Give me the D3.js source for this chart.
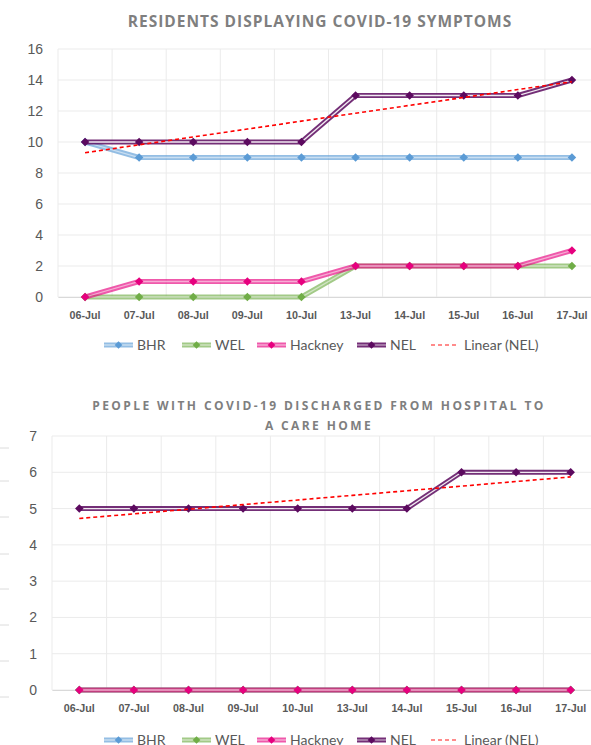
<!DOCTYPE html>
<html><head><meta charset="utf-8">
<script src="https://cdn.jsdelivr.net/npm/d3@7"></script>
<style>
body{margin:0;background:#fff;overflow:hidden}
svg{display:block;font-family:Lato,"Open Sans",sans-serif}
</style></head>
<body><svg id="c" width="591" height="745"></svg>
<script>
const dates = ["06-Jul","07-Jul","08-Jul","09-Jul","10-Jul","13-Jul","14-Jul","15-Jul","16-Jul","17-Jul"];
const seriesNames = ["BHR","WEL","Hackney","NEL"];
const seriesColors = ["#5b9bd5","#70ad47","#e6007e","#5c0a5f"];

// Chart 1: residents displaying symptoms
const symBHR = [10,9,9,9,9,9,9,9,9,9];
const symWEL = [0,0,0,0,0,2,2,2,2,2];
const symHackney = [0,1,1,1,1,2,2,2,2,3];
const symNEL = [10,10,10,10,10,13,13,13,13,14];
const symTicks = [0,2,4,6,8,10,12,14,16];

// Chart 2: discharged to care home
const disBHR = [0,0,0,0,0,0,0,0,0,0];
const disWEL = [0,0,0,0,0,0,0,0,0,0];
const disHackney = [0,0,0,0,0,0,0,0,0,0];
const disNEL = [5,5,5,5,5,5,5,6,6,6];
const disTicks = [0,1,2,3,4,5,6,7];

const svg = d3.select("#c");

function linFit(vals){
  const xs = vals.map((_,i)=>i+1);
  const mx = d3.mean(xs), my = d3.mean(vals);
  let sxy=0,sxx=0;
  xs.forEach((x,i)=>{sxy+=(x-mx)*(vals[i]-my); sxx+=(x-mx)*(x-mx);});
  const b = sxy/sxx, a = my-b*mx;
  return xs.map(x=>a+b*x);
}

function drawChart(cfg){
  const g = svg.append("g");
  const x = d3.scaleBand().domain(dates).range([cfg.left, cfg.right]);
  const y = d3.scaleLinear().domain([0, d3.max(cfg.ticks)]).range([cfg.bottom, cfg.top]);
  g.append("g").selectAll("line").data(cfg.ticks).join("line")
    .attr("x1",cfg.left).attr("x2",cfg.right).attr("y1",d=>y(d)).attr("y2",d=>y(d))
    .attr("stroke","#ebebeb").attr("stroke-width",1);
  g.append("g").selectAll("line").data(dates).join("line")
    .attr("x1",d=>x(d)).attr("x2",d=>x(d)).attr("y1",cfg.top).attr("y2",cfg.bottom)
    .attr("stroke","#ebebeb").attr("stroke-width",1);
  const ya = d3.axisLeft(y).tickValues(cfg.ticks).tickFormat(d3.format("d")).tickSize(0).tickPadding(15);
  const yg = g.append("g").attr("transform",`translate(${cfg.left},0)`).call(ya);
  yg.select(".domain").remove();
  yg.selectAll("text").attr("fill","#595959").style("font-size","14px");
  const xa = d3.axisBottom(x).tickSize(0).tickPadding(14);
  const xg = g.append("g").attr("transform",`translate(0,${cfg.bottom})`).call(xa);
  xg.select(".domain").attr("stroke","#d9d9d9");
  xg.selectAll("text").attr("fill","#595959").style("font-size","11.5px").style("font-weight","bold")
    .attr("textLength",31).attr("lengthAdjust","spacingAndGlyphs");
  const line = d3.line().x((d,i)=>x(dates[i])+x.bandwidth()/2).y(d=>y(d));
  cfg.series.forEach((vals,si)=>{
    const c = seriesColors[si];
    g.append("path").attr("d",line(vals)).attr("fill","none").attr("stroke",c)
      .attr("stroke-width",5).attr("stroke-opacity",si===3?0.85:0.65).attr("stroke-linejoin","round");
    g.append("path").attr("d",line(vals)).attr("fill","none").attr("stroke","#fff")
      .attr("stroke-width",1.3).attr("stroke-opacity",si===3?0.9:0.5);
    g.append("g").selectAll("path").data(vals).join("path")
      .attr("d",d3.symbol(d3.symbolSquare,36))
      .attr("transform",(d,i)=>`translate(${x(dates[i])+x.bandwidth()/2},${y(d)}) rotate(45)`)
      .attr("fill",c);
  });
  const fit = linFit(cfg.series[3]);
  g.append("path").attr("d",line(fit)).attr("fill","none").attr("stroke","#ff0000")
    .attr("stroke-width",1.6).attr("stroke-dasharray","4,3");
  cfg.title.forEach((t,i)=>{
    g.append("text").attr("x",cfg.titleX).attr("y",cfg.titleY+i*cfg.titleStep)
      .attr("text-anchor","middle").attr("fill","#7f7f7f")
      .style("font-family","'Open Sans',sans-serif").style("font-weight","bold")
      .style("font-size",cfg.titleSize+"px").style("letter-spacing",cfg.titleSpacing+"px")
      .text(t);
  });
  const lg = g.append("g").attr("transform",`translate(0,${cfg.legendY})`);
  const lx = [104,182,257,357,431];
  const names = seriesNames.concat(["Linear (NEL)"]);
  names.forEach((n,i)=>{
    const x0 = lx[i];
    if(i<4){
      const c = seriesColors[i];
      lg.append("line").attr("x1",x0).attr("x2",x0+29).attr("y1",0).attr("y2",0)
        .attr("stroke",c).attr("stroke-width",5).attr("stroke-opacity",i===3?0.85:0.65);
      lg.append("line").attr("x1",x0).attr("x2",x0+29).attr("y1",0).attr("y2",0)
        .attr("stroke","#fff").attr("stroke-width",1.3).attr("stroke-opacity",0.55);
      lg.append("path").attr("d",d3.symbol(d3.symbolSquare,30))
        .attr("transform",`translate(${x0+14.5},0) rotate(45)`).attr("fill",c);
    } else {
      lg.append("line").attr("x1",x0).attr("x2",x0+28).attr("y1",0).attr("y2",0)
        .attr("stroke","#ff6666").attr("stroke-width",1.5).attr("stroke-dasharray","4,3");
    }
    lg.append("text").attr("x",x0+33).attr("y",5).attr("fill","#595959")
      .style("font-size","14px").text(n);
  });
}

drawChart({left:58,right:599,top:49,bottom:297,ticks:symTicks,
  series:[symBHR,symWEL,symHackney,symNEL],
  title:["RESIDENTS DISPLAYING COVID-19 SYMPTOMS"],titleX:320,titleY:27,titleStep:0,titleSize:15.5,titleSpacing:1,
  legendY:345});

drawChart({left:52,right:598,top:436,bottom:690,ticks:disTicks,
  series:[disBHR,disWEL,disHackney,disNEL],
  title:["PEOPLE WITH COVID-19 DISCHARGED FROM HOSPITAL TO","A CARE HOME"],titleX:319,titleY:410,titleStep:20,titleSize:12,titleSpacing:2.4,
  legendY:740});

const edge = svg.append("g");
edge.append("line").attr("x1",9).attr("x2",9).attr("y1",447).attr("y2",697).attr("stroke","#dcdcdc");
edge.selectAll("line").data([448,481,517,554,589,625,661,697]).join("line")
  .attr("x1",0).attr("x2",9).attr("y1",d=>d).attr("y2",d=>d).attr("stroke","#dcdcdc");
</script></body></html>
